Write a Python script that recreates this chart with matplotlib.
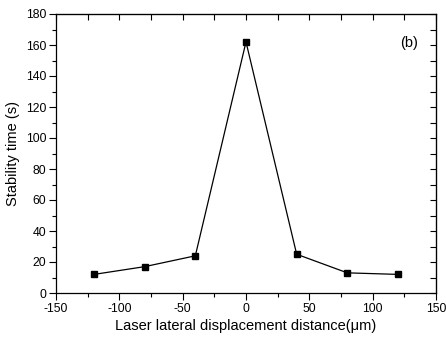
import matplotlib
matplotlib.use("Agg")
import matplotlib.pyplot as plt
from matplotlib.ticker import MultipleLocator

plt.rcParams['font.family'] = ['Liberation Sans', 'DejaVu Sans']
plt.rcParams['axes.unicode_minus'] = False

displacement = [-120, -80, -40, 0, 40, 80, 120]
stability_time = [12, 17, 24, 162, 25, 13, 12]

fig = plt.figure(figsize=(4.46, 3.37), dpi=100)
ax = fig.add_axes([56 / 446, 1 - 293 / 337, 380 / 446, 279 / 337])

ax.plot(displacement, stability_time, color='black', linewidth=0.9,
        marker='s', markersize=5, markerfacecolor='black')

ax.set_xlim(-150, 150)
ax.set_ylim(0, 180)
ax.xaxis.set_major_locator(MultipleLocator(50))
ax.xaxis.set_minor_locator(MultipleLocator(25))
ax.yaxis.set_major_locator(MultipleLocator(20))
ax.yaxis.set_minor_locator(MultipleLocator(10))

ax.tick_params(which='both', direction='out', labelsize=8.8, width=0.8,
               top=False, right=False, pad=2)
ax.tick_params(which='major', length=5)
ax.tick_params(which='minor', length=3)

# top / right mirror ticks pointing inward
axt = ax.secondary_xaxis('top')
axt.xaxis.set_major_locator(MultipleLocator(25))
axt.tick_params(direction='in', length=4, width=0.8, labeltop=False)
axr = ax.secondary_yaxis('right')
axr.yaxis.set_major_locator(MultipleLocator(10))
axr.tick_params(direction='in', length=4, width=0.8, labelright=False)

for s in ax.spines.values():
    s.set_linewidth(0.9)

ax.set_xlabel('Laser lateral displacement distance(\u03bcm)', fontsize=10.5, labelpad=3)
ax.set_ylabel('Stability time (s)', fontsize=10.5, labelpad=4)
ax.text(0.93, 0.895, '(b)', transform=ax.transAxes, fontsize=10.5, ha='center', va='center')

fig.savefig('out.png', dpi=100)
